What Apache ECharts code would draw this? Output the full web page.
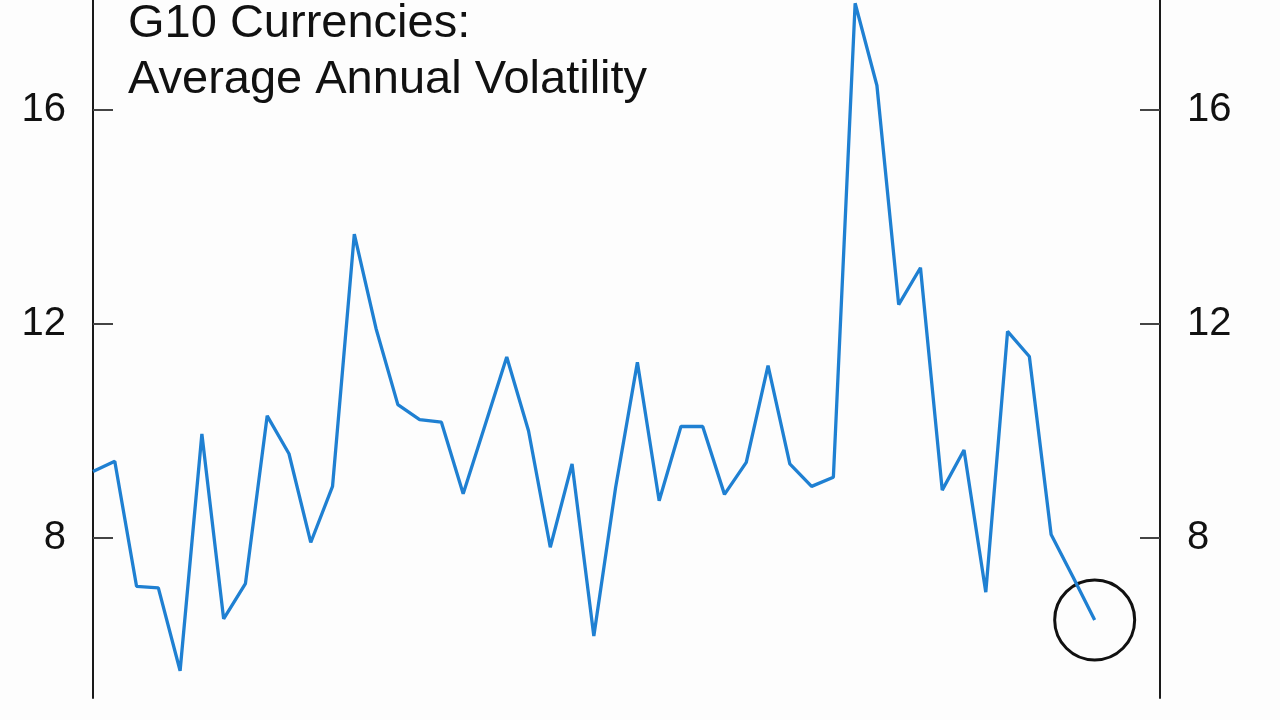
<!DOCTYPE html>
<html>
<head>
<meta charset="utf-8">
<script src="https://cdn.jsdelivr.net/npm/echarts@6/dist/echarts.min.js"></script>
<style>
html,body{margin:0;padding:0;background:#fdfdfd;}
#c{width:1280px;height:720px;}
</style>
</head>
<body>
<div id="c"></div>
<script>
// Categories: annual observations (axis extends a few periods past the last point)
const years = [
  1971,1972,1973,1974,1975,1976,1977,1978,1979,1980,
  1981,1982,1983,1984,1985,1986,1987,1988,1989,1990,
  1991,1992,1993,1994,1995,1996,1997,1998,1999,2000,
  2001,2002,2003,2004,2005,2006,2007,2008,2009,2010,
  2011,2012,2013,2014,2015,2016,2017,2018,2019,2020
];
// Average annual volatility of G10 currencies (%)
const volatility = [
  9.24, 9.43, 7.09, 7.06, 5.51, 9.94, 6.48, 7.14, 10.28, 9.57,
  7.91, 8.96, 13.68, 11.91, 10.49, 10.21, 10.16, 8.82, 10.10, 11.38,
  10.00, 7.82, 9.38, 6.16, 8.94, 11.28, 8.69, 10.08, 10.08, 8.81,
  9.41, 11.22, 9.38, 8.96, 9.13, 18.00, 16.46, 12.36, 13.05, 8.89,
  9.64, 6.98, 11.86, 11.39, 8.06, 7.27, 6.46
];
const yTicks = [8, 12, 16];
const titleLines = ["G10 Currencies:", "Average Annual Volatility"];

const lastIdx = volatility.length - 1;
const highlight = [[lastIdx, volatility[lastIdx]]];

const font = '"Liberation Sans", Arial, sans-serif';

function yAxisCfg(pos) {
  return {
    type: 'value',
    position: pos,
    min: 5,
    max: 18.06,
    splitLine: {show: false},
    axisLine: {show: true, onZero: false, lineStyle: {color: '#1a1a1a', width: 2}},
    axisTick: {show: true, inside: true, length: 20, customValues: yTicks,
               lineStyle: {color: '#444', width: 2}},
    axisLabel: {show: true, customValues: yTicks, margin: 27,
                fontFamily: font, fontSize: 40, color: '#111',
                padding: [0, 0, 10, 0]}
  };
}

const chart = echarts.init(document.getElementById('c'), null, {renderer: 'canvas'});
chart.setOption({
  backgroundColor: '#fdfdfd',
  animation: false,
  title: {
    text: titleLines.join('\n'),
    left: 128,
    top: -4,
    padding: 0,
    textStyle: {fontFamily: font, fontSize: 47, fontWeight: 'normal',
                color: '#111', lineHeight: 56}
  },
  grid: {left: 93, right: 120, top: 0, bottom: 22, containLabel: false},
  xAxis: {
    type: 'category',
    data: years,
    boundaryGap: false,
    show: false
  },
  yAxis: [yAxisCfg('left'), yAxisCfg('right')],
  series: [
    {
      type: 'line',
      data: volatility,
      yAxisIndex: 0,
      symbol: 'none',
      lineStyle: {color: '#1f80d2', width: 3.3},
      clip: false
    },
    {
      type: 'scatter',
      data: highlight,
      yAxisIndex: 0,
      symbol: 'circle',
      symbolSize: 80,
      itemStyle: {color: 'rgba(0,0,0,0)', borderColor: '#111', borderWidth: 3, opacity: 1}
    }
  ]
});
</script>
</body>
</html>
